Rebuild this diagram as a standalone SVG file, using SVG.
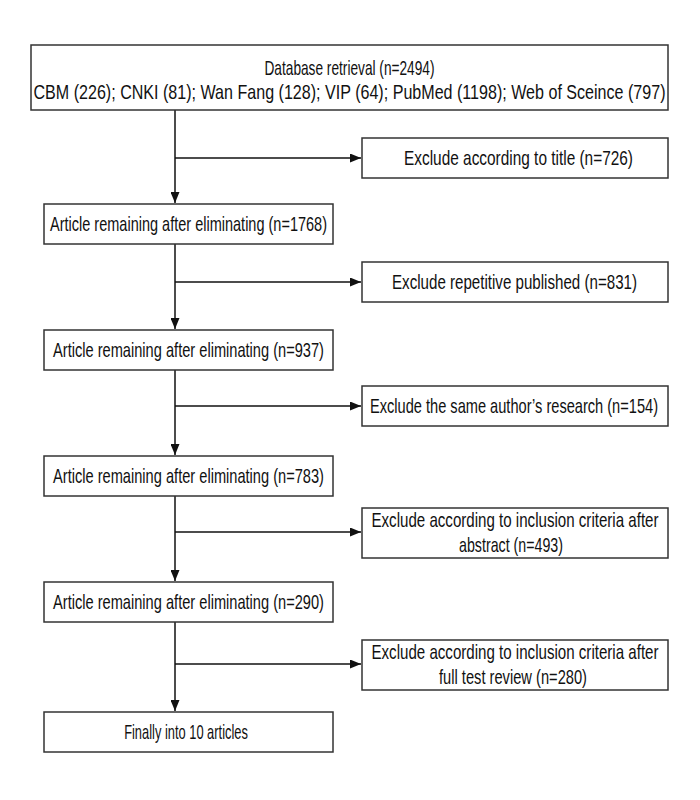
<svg xmlns="http://www.w3.org/2000/svg" width="700" height="800" viewBox="0 0 700 800">
<style>
.box{fill:#fff;stroke:#333;stroke-width:1.5}
.t{font-family:"Liberation Sans",Arial,sans-serif;font-size:20px;fill:#111;text-anchor:middle}
.c{stroke:#111;stroke-width:1.5;fill:none}
</style>
<defs>
<marker id="ah" markerWidth="11" markerHeight="9" refX="11" refY="4.5" orient="auto" markerUnits="userSpaceOnUse">
<path d="M0,0 L11,4.5 L0,9 Z" fill="#111"/>
</marker>
</defs>
<rect width="700" height="800" fill="#fff"/>
<g id="connectors">
<line class="c" x1="175" y1="110" x2="175" y2="203" marker-end="url(#ah)"/>
<line class="c" x1="175" y1="158" x2="361" y2="158" marker-end="url(#ah)"/>
<line class="c" x1="175" y1="244" x2="175" y2="329" marker-end="url(#ah)"/>
<line class="c" x1="175" y1="282" x2="361" y2="282" marker-end="url(#ah)"/>
<line class="c" x1="175" y1="370" x2="175" y2="455" marker-end="url(#ah)"/>
<line class="c" x1="175" y1="406" x2="361" y2="406" marker-end="url(#ah)"/>
<line class="c" x1="175" y1="496" x2="175" y2="581" marker-end="url(#ah)"/>
<line class="c" x1="175" y1="532" x2="361" y2="532" marker-end="url(#ah)"/>
<line class="c" x1="175" y1="622" x2="175" y2="711" marker-end="url(#ah)"/>
<line class="c" x1="175" y1="664" x2="361" y2="664" marker-end="url(#ah)"/>
</g>
<g id="n0">
<rect class="box" x="31" y="45" width="637" height="65"/>
<text class="t" transform="translate(349.5,75) scale(0.75,1)" textLength="226.7" lengthAdjust="spacingAndGlyphs">Database retrieval (n=2494)</text>
<text class="t" transform="translate(349.5,99) scale(0.75,1)" textLength="842.7" lengthAdjust="spacingAndGlyphs">CBM (226); CNKI (81); Wan Fang (128); VIP (64); PubMed (1198); Web of Sceince (797)</text>
</g>
<g id="e1">
<rect class="box" x="362" y="138" width="306" height="40"/>
<text class="t" transform="translate(518.5,165) scale(0.75,1)" textLength="305.3" lengthAdjust="spacingAndGlyphs">Exclude according to title (n=726)</text>
</g>
<g id="n1">
<rect class="box" x="44" y="204" width="289" height="40"/>
<text class="t" transform="translate(188.5,231) scale(0.75,1)" textLength="369.3" lengthAdjust="spacingAndGlyphs">Article remaining after eliminating (n=1768)</text>
</g>
<g id="e2">
<rect class="box" x="362" y="262" width="306" height="40"/>
<text class="t" transform="translate(514.5,289) scale(0.75,1)" textLength="326.7" lengthAdjust="spacingAndGlyphs">Exclude repetitive published (n=831)</text>
</g>
<g id="n2">
<rect class="box" x="44" y="330" width="289" height="40"/>
<text class="t" transform="translate(188.5,357) scale(0.75,1)" textLength="361.3" lengthAdjust="spacingAndGlyphs">Article remaining after eliminating (n=937)</text>
</g>
<g id="e3">
<rect class="box" x="362" y="386" width="306" height="40"/>
<text class="t" transform="translate(514,413) scale(0.75,1)" textLength="384" lengthAdjust="spacingAndGlyphs">Exclude the same author’s research (n=154)</text>
</g>
<g id="n3">
<rect class="box" x="44" y="456" width="289" height="40"/>
<text class="t" transform="translate(188.5,483) scale(0.75,1)" textLength="361.3" lengthAdjust="spacingAndGlyphs">Article remaining after eliminating (n=783)</text>
</g>
<g id="e4">
<rect class="box" x="362" y="508" width="306" height="50"/>
<text class="t" transform="translate(515,527) scale(0.75,1)" textLength="382.7" lengthAdjust="spacingAndGlyphs">Exclude according to inclusion criteria after</text>
<text class="t" transform="translate(511,552) scale(0.75,1)" textLength="138.7" lengthAdjust="spacingAndGlyphs">abstract (n=493)</text>
</g>
<g id="n4">
<rect class="box" x="44" y="582" width="289" height="40"/>
<text class="t" transform="translate(188.5,609) scale(0.75,1)" textLength="361.3" lengthAdjust="spacingAndGlyphs">Article remaining after eliminating (n=290)</text>
</g>
<g id="e5">
<rect class="box" x="362" y="640" width="306" height="50"/>
<text class="t" transform="translate(515,659) scale(0.75,1)" textLength="382.7" lengthAdjust="spacingAndGlyphs">Exclude according to inclusion criteria after</text>
<text class="t" transform="translate(513,684) scale(0.75,1)" textLength="197.3" lengthAdjust="spacingAndGlyphs">full test review (n=280)</text>
</g>
<g id="n5">
<rect class="box" x="44" y="712" width="289" height="40"/>
<text class="t" transform="translate(186,739) scale(0.75,1)" textLength="165" lengthAdjust="spacingAndGlyphs">Finally into 10 articles</text>
</g>
</svg>
